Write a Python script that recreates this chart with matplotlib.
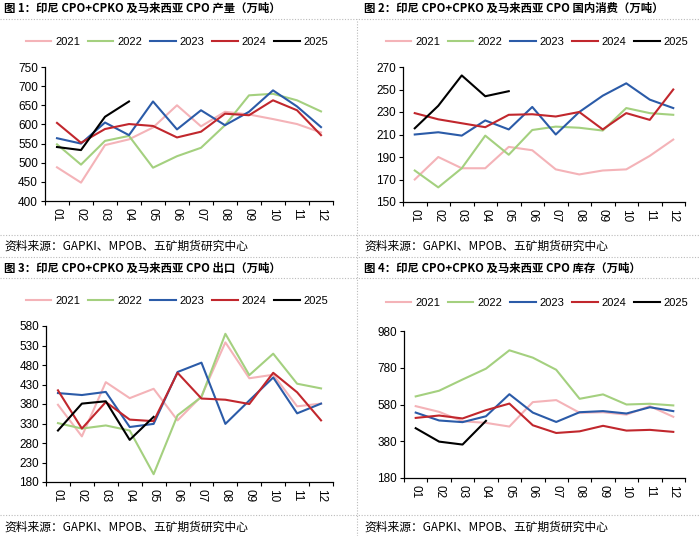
import numpy as np
import matplotlib
matplotlib.use("Agg")
import matplotlib.pyplot as plt
from matplotlib.lines import Line2D

plt.rcParams['font.family'] = ['Liberation Sans', 'Noto Sans CJK SC', 'DejaVu Sans']

months = ["01", "02", "03", "04", "05", "06", "07", "08", "09", "10", "11", "12"]
years = ["2021", "2022", "2023", "2024", "2025"]
colors = ["#F4B3B8", "#A4D07F", "#2B5BA8", "#C1272D", "#000000"]

# 图1 产量
prod_2021 = [488, 448, 546, 561, 592, 650, 595, 633, 626, 614, 601, 579]
prod_2022 = [548, 495, 557, 570, 487, 517, 539, 598, 676, 680, 663, 634]
prod_2023 = [564, 550, 605, 572, 660, 587, 637, 598, 633, 689, 647, 593]
prod_2024 = [604, 552, 588, 601, 596, 566, 581, 628, 624, 663, 637, 572]
prod_2025 = [541, 533, 620, 660]

# 图2 国内消费
cons_2021 = [170, 190, 180, 180, 199, 196, 179, 174.5, 178, 179, 191, 205.5]
cons_2022 = [178, 163, 180, 209, 192, 214, 217, 216, 213.5, 233.5, 229, 227.5]
cons_2023 = [210, 212, 209, 222.5, 214.5, 234.5, 210, 230, 244.5, 255.5, 241, 233.5]
cons_2024 = [229, 223.5, 220, 216.5, 227.5, 228, 226, 230, 214.5, 229, 223, 250]
cons_2025 = [215.5, 235.5, 262.5, 244, 248.5]

# 图3 出口
exp_2021 = [378, 297, 436, 395, 419, 338, 400, 538, 446, 455, 374, 381]
exp_2022 = [331, 317, 325, 312, 200, 351, 398, 560, 454, 509, 432, 420]
exp_2023 = [408, 403, 411, 321, 329, 462, 486, 329, 389, 448, 356, 381]
exp_2024 = [415, 317, 385, 340, 336, 460, 394, 391, 380, 460, 410, 338]
exp_2025 = [312, 381, 387, 288, 347]

# 图4 库存
stock_2021 = [571, 540, 489, 480, 460, 593, 604, 535, 538, 525, 571, 513]
stock_2022 = [624, 655, 716, 775, 875, 835, 769, 611, 635, 580, 584, 575]
stock_2023 = [536, 493, 484, 516, 636, 536, 485, 538, 544, 531, 565, 544]
stock_2024 = [507, 520, 504, 549, 585, 467, 425, 434, 464, 438, 442, 431]
stock_2025 = [451, 378, 362, 491]

panels = [
    ("图 1：印尼 CPO+CPKO 及马来西亚 CPO 产量（万吨）",
     [prod_2021, prod_2022, prod_2023, prod_2024, prod_2025], np.arange(400, 751, 50)),
    ("图 2：印尼 CPO+CPKO 及马来西亚 CPO 国内消费（万吨）",
     [cons_2021, cons_2022, cons_2023, cons_2024, cons_2025], np.arange(150, 271, 20)),
    ("图 3：印尼 CPO+CPKO 及马来西亚 CPO 出口（万吨）",
     [exp_2021, exp_2022, exp_2023, exp_2024, exp_2025], np.arange(180, 581, 50)),
    ("图 4：印尼 CPO+CPKO 及马来西亚 CPO 库存（万吨）",
     [stock_2021, stock_2022, stock_2023, stock_2024, stock_2025], np.arange(180, 981, 200)),
]

W, H = 700, 536
# axes boxes in pixels: left, top, right, bottom
boxes = [(45, 67, 333, 201), (403, 67, 685, 202), (46, 326, 333, 482), (404, 331, 685, 478)]
legend_pos = [(177, 42), (537, 42), (177, 301), (537, 303)]
title_pos = [(4, 8), (364, 8), (4, 268), (364, 268)]
source_pos = [(4, 246), (364, 246), (4, 527), (364, 527)]

fig = plt.figure(figsize=(7, 5.36), dpi=100)

for i, (title, series, yticks) in enumerate(panels):
    l, t, r, b = boxes[i]
    ax = fig.add_axes([l / W, 1 - b / H, (r - l) / W, (b - t) / H])
    for vals, c, yr in zip(series, colors, years):
        ax.plot(np.arange(len(vals)), vals, color=c, lw=1.5, label=yr)
    ax.set_xlim(-0.5, 11.5)
    ax.set_ylim(yticks[0], yticks[-1])
    ax.set_yticks(yticks)
    ax.set_xticks(np.arange(-0.5, 12, 1))
    ax.set_xticklabels([])
    ax.set_xticks(np.arange(12), minor=True)
    ax.set_xticklabels(months, minor=True, rotation=-90, fontsize=8.5)
    ax.tick_params(axis='x', which='minor', length=0, pad=5)
    ax.tick_params(axis='x', which='major', length=3, width=0.8)
    ax.tick_params(axis='y', length=3, width=0.8, labelsize=8.5, pad=2)
    for s in ("top", "right"):
        ax.spines[s].set_visible(False)
    for s in ("left", "bottom"):
        ax.spines[s].set_linewidth(0.9)
    lx, ly = legend_pos[i]
    ax.legend(loc="center", bbox_to_anchor=(lx / W, 1 - ly / H), bbox_transform=fig.transFigure,
              ncol=5, frameon=False, fontsize=8, handlelength=2.3, handletextpad=0.35,
              columnspacing=0.7, borderpad=0, borderaxespad=0)
    tx, ty = title_pos[i]
    fig.text(tx / W, 1 - ty / H, title, ha="left", va="center", fontsize=8.2,
             fontweight="bold", family=["Noto Sans CJK SC", "DejaVu Sans"])
    sx, sy = source_pos[i]
    fig.text(sx / W, 1 - sy / H, "资料来源：GAPKI、MPOB、五矿期货研究中心", ha="left", va="center",
             fontsize=8.5, family=["Noto Sans CJK SC", "DejaVu Sans"])

# dotted separators
for y in [19, 235, 257, 278, 515]:
    fig.add_artist(Line2D([0, 1], [1 - y / H, 1 - y / H], transform=fig.transFigure,
                          color="#bbbbbb", lw=0.8, ls=(0, (1, 1.5))))
fig.add_artist(Line2D([357 / W, 357 / W], [0, 1 - 19 / H], transform=fig.transFigure,
                      color="#bbbbbb", lw=0.8, ls=(0, (1, 1.5))))

fig.savefig("out.png", dpi=100)
